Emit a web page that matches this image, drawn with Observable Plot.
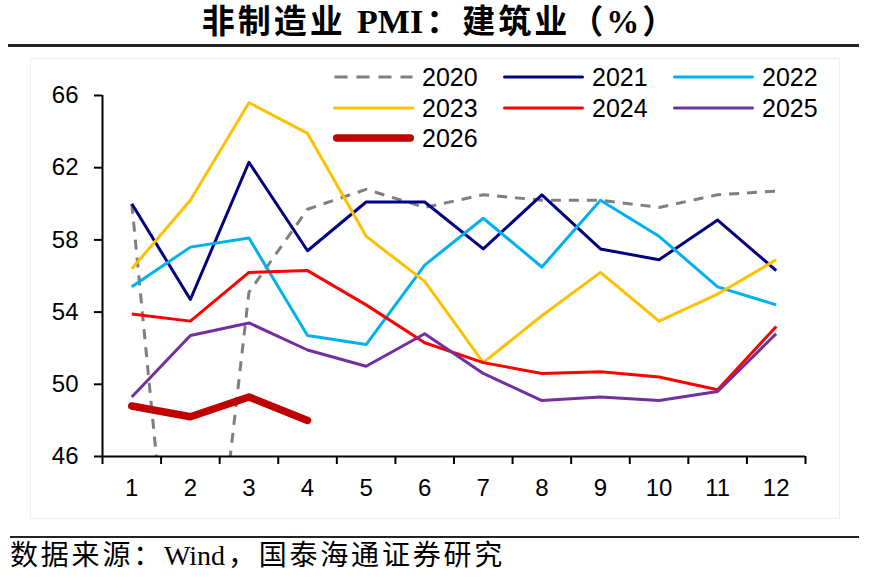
<!DOCTYPE html>
<html>
<head>
<meta charset="utf-8">
<script src="https://cdn.jsdelivr.net/npm/d3@7"></script>
<script src="https://cdn.jsdelivr.net/npm/@observablehq/plot@0.6"></script>
<style>
  html, body { margin: 0; padding: 0; background: #fff; }
  #wrap { position: relative; width: 880px; height: 584px; overflow: hidden; background: #fff; }
  #title { position: absolute; top: 3px; left: 0; width: 880px; text-align: center;
    font-family: "Liberation Serif", "Noto Sans CJK SC", serif; font-weight: bold; font-size: 33px; letter-spacing: 3px; line-height: 38px; color: #000; }
  #title .lat { letter-spacing: 0; margin-right: 3px; font-size: 34px; }
  #tline { position: absolute; top: 44px; left: 8px; width: 851px; height: 3px; background: #222; }
  #box { position: absolute; top: 58px; left: 30px; width: 810px; height: 461px; border: 1px solid #eeeeee; box-sizing: border-box; }
  #chart { position: absolute; top: 50px; left: 0; }
  #bline { position: absolute; top: 536px; left: 10px; width: 849px; height: 2px; background: #222; }
  #source { position: absolute; top: 539px; left: 10px; font-family: "Liberation Serif", "Noto Sans CJK SC", serif;
    font-size: 28px; letter-spacing: 2.8px; line-height: 34px; color: #000; }
  #source .lat { letter-spacing: 0; margin-right: 2.8px; }
  #legend { position: absolute; top: 0; left: 0; width: 880px; height: 200px; pointer-events: none; }
  .item { position: absolute; height: 30px; display: flex; align-items: center;
    font-family: "Liberation Sans", Arial, sans-serif; font-size: 25px; color: #000; }
  .item svg { margin-right: 7px; }
</style>
</head>
<body>
<div id="wrap">
  <div id="box"></div>
  <div id="title">非制造业 <span class="lat">PMI</span>：建筑业（%）</div>
  <div id="tline"></div>
  <div id="chart"></div>
  <div id="legend"></div>
  <div id="bline"></div>
  <div id="source">数据来源：<span class="lat">Wind</span>，国泰海通证券研究</div>
</div>
<script>
const months = [1, 2, 3, 4, 5, 6, 7, 8, 9, 10, 11, 12];
const yTicks = [46, 50, 54, 58, 62, 66];

const v2020 = [60.0, 26.6, 55.1, 59.7, 60.8, 59.8, 60.5, 60.2, 60.2, 59.8, 60.5, 60.7];
const v2021 = [60.0, 54.7, 62.3, 57.4, 60.1, 60.1, 57.5, 60.5, 57.5, 56.9, 59.1, 56.3];
const v2022 = [55.4, 57.6, 58.1, 52.7, 52.2, 56.6, 59.2, 56.5, 60.2, 58.2, 55.4, 54.4];
const v2023 = [56.4, 60.2, 65.6, 63.9, 58.2, 55.7, 51.2, 53.8, 56.2, 53.5, 55.0, 56.9];
const v2024 = [53.9, 53.5, 56.2, 56.3, 54.4, 52.3, 51.2, 50.6, 50.7, 50.4, 49.7, 53.2];
const v2025 = [49.3, 52.7, 53.4, 51.9, 51.0, 52.8, 50.6, 49.1, 49.3, 49.1, 49.6, 52.8];
const v2026 = [48.8, 48.2, 49.3, 48.0];

const years = ["2020", "2021", "2022", "2023", "2024", "2025", "2026"];
const seriesValues = [v2020, v2021, v2022, v2023, v2024, v2025, v2026];
const colors = ["#7f7f7f", "#000080", "#00b0f0", "#ffc000", "#ff0000", "#7030a0", "#c00000"];
const widths = [3, 3, 3, 3, 3, 3, 7.5];
const dashes = ["10,8", null, null, null, null, null, null];

const data = years.flatMap((y, i) => seriesValues[i].map((v, j) => ({year: y, month: months[j], value: v})));

const boundaryTicks = months.map(m => m - 0.5).concat([months[months.length - 1] + 0.5]);

const lineMarks = years.map((y, i) =>
  Plot.line(data.filter(d => d.year === y), {
    x: "month", y: "value",
    stroke: colors[i], strokeWidth: widths[i],
    strokeDasharray: dashes[i] || undefined,
    strokeLinejoin: "round",
    strokeLinecap: i === 6 ? "round" : "butt",
    clip: "frame"
  })
);

const chart = Plot.plot({
  width: 880,
  height: 470,
  marginTop: 45,
  marginBottom: 64,
  marginLeft: 102,
  marginRight: 75,
  style: { fontFamily: "'Liberation Sans', Arial, sans-serif", fontSize: "24px", color: "#000", background: "transparent" },
  x: { domain: [boundaryTicks[0], boundaryTicks[boundaryTicks.length - 1]] },
  y: { domain: [yTicks[0], yTicks[yTicks.length - 1]] },
  marks: [
    ...lineMarks,
    Plot.ruleX([boundaryTicks[0]], {stroke: "#000", strokeWidth: 2}),
    Plot.ruleY([yTicks[0]], {stroke: "#000", strokeWidth: 2}),
    Plot.axisY({ticks: yTicks, tickSize: 8, tickPadding: 16, label: null, stroke: "#000", strokeWidth: 2, fontSize: 24}),
    Plot.axisX({ticks: boundaryTicks, tickSize: 8, tickFormat: () => "", label: null, stroke: "#000", strokeWidth: 2}),
    Plot.axisX({ticks: months, tickSize: 0, tickPadding: 22, tickFormat: d => String(d), label: null, fontSize: 24})
  ]
});
document.getElementById("chart").appendChild(chart);

// Legend (HTML overlay)
const legendPos = [
  [332, 62], [502, 62], [672, 62],
  [332, 93], [502, 93], [672, 93],
  [332, 123]
];
const leg = document.getElementById("legend");
years.forEach((y, i) => {
  const div = document.createElement("div");
  div.className = "item";
  div.style.left = legendPos[i][0] + "px";
  div.style.top = legendPos[i][1] + "px";
  const w = 83;
  const dash = dashes[i] ? `stroke-dasharray="13,9"` : "";
  div.innerHTML = `<svg width="${w}" height="12"><line x1="${widths[i] / 2 + 1}" x2="${w - widths[i] / 2 - 1}" y1="6" y2="6" stroke="${colors[i]}" stroke-width="${widths[i]}" stroke-linecap="${dashes[i] ? 'butt' : 'round'}" ${dash}/></svg><span>${y}</span>`;
  leg.appendChild(div);
});
</script>
</body>
</html>
